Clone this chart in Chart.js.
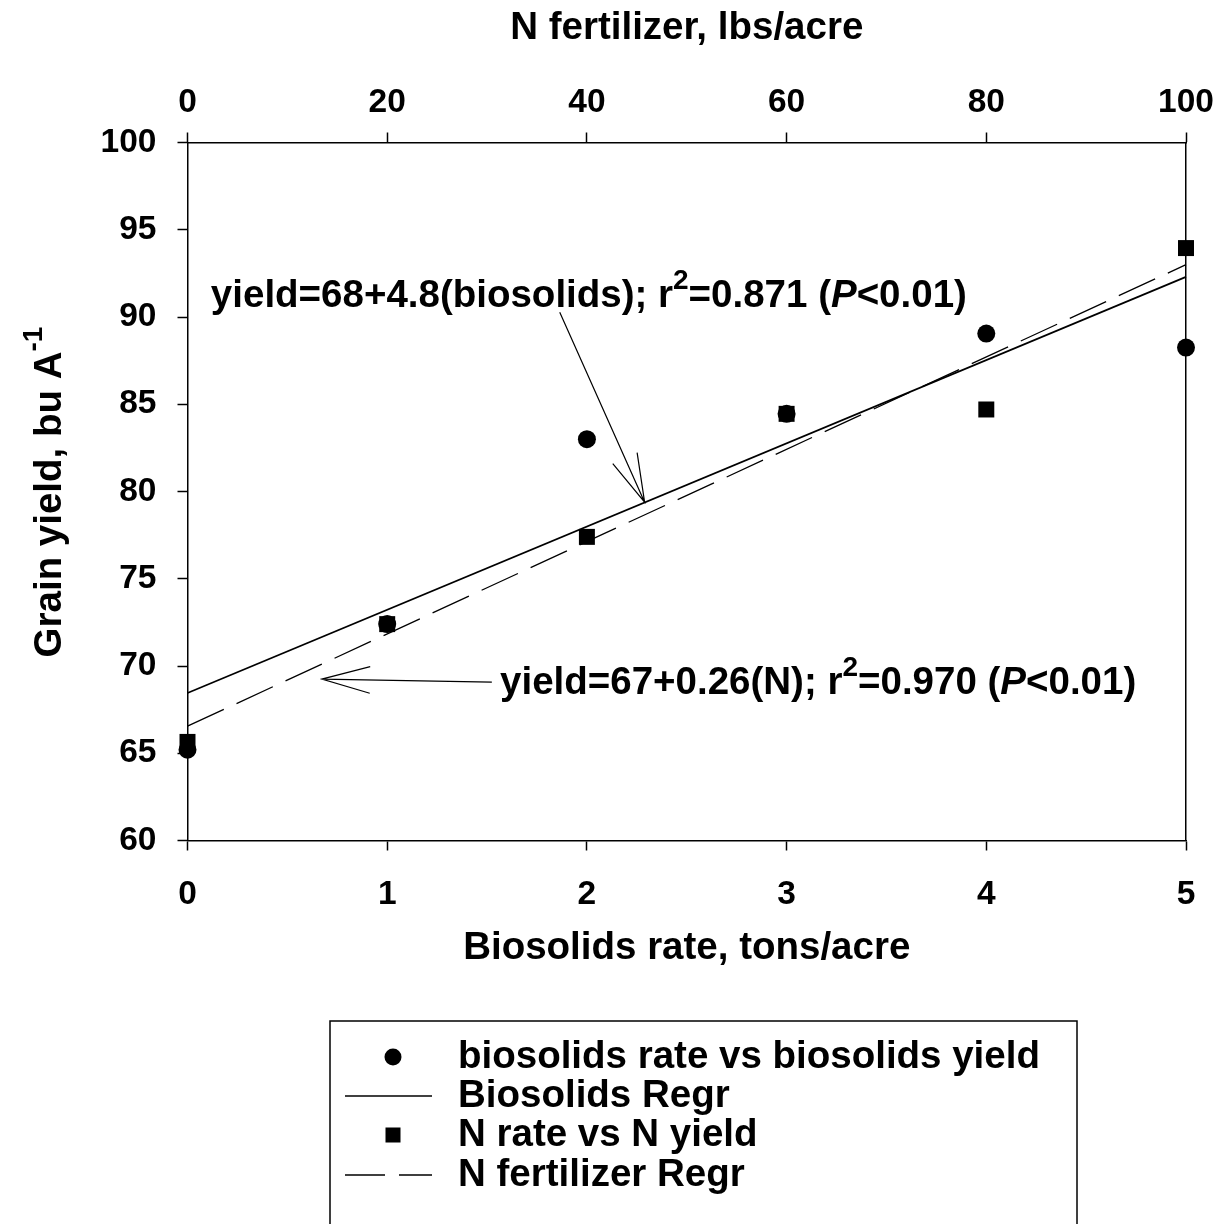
<!DOCTYPE html>
<html>
<head>
<meta charset="utf-8">
<script src="https://cdn.jsdelivr.net/npm/chart.js@4.4.1/dist/chart.umd.min.js"></script>
<style>
  html, body { margin: 0; padding: 0; background: #fff; }
  #wrap { width: 1226px; height: 1224px; }
</style>
</head>
<body>
<div id="wrap"><canvas id="yield"></canvas></div>
<script>
// values
const bioRate = [0, 1, 2, 3, 4, 5];
const bioYield = [65.2, 72.4, 83.0, 84.45, 89.05, 88.25];
const nRate = [0, 20, 40, 60, 80, 100];
const nYield = [65.65, 72.4, 77.4, 84.45, 84.7, 93.95];
const bioFitX = [0, 5];
const bioFitY = [68.45, 92.3];
const nFitX = [0, 100];
const nFitY = [66.55, 93.0];
const bioTicks = [0, 1, 2, 3, 4, 5];
const nTicks = [0, 20, 40, 60, 80, 100];
const yieldTicks = [60, 65, 70, 75, 80, 85, 90, 95, 100];

const FONT = '"Liberation Sans", Arial, sans-serif';
const TICK_FONT = {family: FONT, size: 33.5, weight: 'bold'};
const ctx = document.getElementById('yield').getContext('2d');

function pairs(xs, ys) {
    return xs.map((v, i) => ({x: v, y: ys[i]}));
}

function axisGrid(ticks) {
    return {
        drawOnChartArea: false,
        drawTicks: ticks,
        tickLength: 10,
        tickWidth: 1.5,
        tickColor: '#000'
    };
}

// draws text pieces one after another, some raised or italic
function drawRuns(c, runs, x, y) {
    let cx = x;
    runs.forEach(r => {
        c.font = r.font;
        c.fillText(r.t, cx, y + (r.dy || 0));
        cx += c.measureText(r.t).width;
    });
    return cx;
}

function runsWidth(c, runs) {
    let w = 0;
    runs.forEach(r => {
        c.font = r.font;
        w += c.measureText(r.t).width;
    });
    return w;
}

function arrow(c, x0, y0, x1, y1) {
    const ang = Math.atan2(y0 - y1, x0 - x1);
    const len = 50, spread = 0.27;
    c.beginPath();
    c.moveTo(x0, y0);
    c.lineTo(x1, y1);
    c.moveTo(x1 + len * Math.cos(ang - spread), y1 + len * Math.sin(ang - spread));
    c.lineTo(x1, y1);
    c.lineTo(x1 + len * Math.cos(ang + spread), y1 + len * Math.sin(ang + spread));
    c.stroke();
}

const BIG = 'bold 38.5px ' + FONT;
const SUP = 'bold 28px ' + FONT;
const BIGI = 'italic bold 38.5px ' + FONT;

const decor = {
    id: 'decor',
    afterDraw(chart) {
        const c = chart.ctx;
        const sx = chart.scales.x, sx2 = chart.scales.x2, sy = chart.scales.y;
        const area = chart.chartArea;
        c.save();
        c.fillStyle = '#000';
        c.strokeStyle = '#000';
        c.textBaseline = 'middle';

        // axis titles
        c.textAlign = 'center';
        c.font = BIG;
        c.fillText('N fertilizer, lbs/acre', (area.left + area.right) / 2, 28);
        c.fillText('Biosolids rate, tons/acre', (area.left + area.right) / 2, 948);

        c.textAlign = 'left';
        const yTitle = [
            {t: 'Grain yield, bu A', font: BIG},
            {t: '-1', font: SUP, dy: -16}
        ];
        c.save();
        c.translate(50, 492);
        c.rotate(-Math.PI / 2);
        drawRuns(c, yTitle, -runsWidth(c, yTitle) / 2, 0);
        c.restore();

        // regression equations
        const eq1 = [
            {t: 'yield=68+4.8(biosolids); r', font: BIG},
            {t: '2', font: SUP, dy: -15},
            {t: '=0.871 (', font: BIG},
            {t: 'P', font: BIGI},
            {t: '<0.01)', font: BIG}
        ];
        const eq2 = [
            {t: 'yield=67+0.26(N); r', font: BIG},
            {t: '2', font: SUP, dy: -15},
            {t: '=0.970 (', font: BIG},
            {t: 'P', font: BIGI},
            {t: '<0.01)', font: BIG}
        ];
        drawRuns(c, eq1, sx.getPixelForValue(0.117), sy.getPixelForValue(91.2));
        drawRuns(c, eq2, sx.getPixelForValue(1.565), sy.getPixelForValue(69.0));

        c.lineWidth = 1.2;
        arrow(c, sx.getPixelForValue(1.864), sy.getPixelForValue(90.27),
              sx.getPixelForValue(2.289), sy.getPixelForValue(79.39));
        arrow(c, sx.getPixelForValue(1.524), sy.getPixelForValue(69.08),
              sx2.getPixelForValue(13.45), sy.getPixelForValue(69.25));

        // legend box
        c.lineWidth = 1.5;
        c.strokeRect(330, 1021, 747, 260);
        const rows = [1057, 1096, 1135, 1175];
        chart.data.datasets.forEach((ds, i) => {
            const ry = rows[i];
            if (ds.showLine) {
                c.lineWidth = 1.5;
                c.setLineDash(ds.borderDash || []);
                c.beginPath();
                c.moveTo(345, ry);
                c.lineTo(432, ry);
                c.stroke();
                c.setLineDash([]);
            } else if (ds.pointStyle === 'rect') {
                c.fillRect(393 - 7.5, ry - 7.5, 15, 15);
            } else {
                c.beginPath();
                c.arc(393, ry, 8.5, 0, Math.PI * 2);
                c.fill();
            }
            c.font = BIG;
            c.fillText(ds.label, 458, ry);
        });
        c.restore();
    }
};

const yieldChart = new Chart(ctx, {
    type: 'scatter',
    data: {
        datasets: [
            {
                label: 'biosolids rate vs biosolids yield',
                data: pairs(bioRate, bioYield),
                xAxisID: 'x',
                pointStyle: 'circle',
                pointRadius: 9,
                pointHoverRadius: 9,
                backgroundColor: '#000',
                borderColor: '#000',
                borderWidth: 0,
                showLine: false,
                clip: false
            },
            {
                label: 'Biosolids Regr',
                data: pairs(bioFitX, bioFitY),
                xAxisID: 'x',
                showLine: true,
                pointRadius: 0,
                borderColor: '#000',
                borderWidth: 1.7,
                clip: false
            },
            {
                label: 'N rate vs N yield',
                data: pairs(nRate, nYield),
                xAxisID: 'x2',
                pointStyle: 'rect',
                pointRadius: 11.3,
                pointHoverRadius: 11.3,
                backgroundColor: '#000',
                borderColor: '#000',
                borderWidth: 0,
                showLine: false,
                clip: false
            },
            {
                label: 'N fertilizer Regr',
                data: pairs(nFitX, nFitY),
                xAxisID: 'x2',
                showLine: true,
                pointRadius: 0,
                borderColor: '#000',
                borderWidth: 1.3,
                borderDash: [40, 14],
                clip: false
            }
        ]
    },
    options: {
        responsive: true,
        maintainAspectRatio: false,
        animation: false,
        layout: {padding: 0},
        plugins: {
            legend: {display: false},
            tooltip: {enabled: false}
        },
        scales: {
            x: {
                type: 'linear',
                position: 'bottom',
                min: 0,
                max: 5,
                afterBuildTicks: s => { s.ticks = bioTicks.map(v => ({value: v})); },
                ticks: {
                    color: '#000',
                    font: TICK_FONT,
                    padding: 24,
                    maxRotation: 0,
                    autoSkip: false
                },
                grid: axisGrid(true),
                border: {display: true, color: '#000', width: 1.5},
                afterFit: s => { s.height = 383.5; }
            },
            x2: {
                type: 'linear',
                position: 'top',
                min: 0,
                max: 100,
                afterBuildTicks: s => { s.ticks = nTicks.map(v => ({value: v})); },
                ticks: {
                    color: '#000',
                    font: TICK_FONT,
                    padding: 10,
                    maxRotation: 0,
                    autoSkip: false
                },
                grid: axisGrid(true),
                border: {display: true, color: '#000', width: 1.5},
                afterFit: s => { s.height = 142.5; }
            },
            y: {
                type: 'linear',
                position: 'left',
                min: 60,
                max: 100,
                afterBuildTicks: s => { s.ticks = yieldTicks.map(v => ({value: v})); },
                ticks: {
                    color: '#000',
                    font: TICK_FONT,
                    padding: 21,
                    autoSkip: false
                },
                grid: axisGrid(true),
                border: {display: true, color: '#000', width: 1.5},
                afterFit: s => { s.width = 187.5; }
            },
            y2: {
                type: 'linear',
                position: 'right',
                min: 60,
                max: 100,
                ticks: {display: false},
                grid: axisGrid(false),
                border: {display: true, color: '#000', width: 1.5},
                afterFit: s => { s.width = 40; }
            }
        }
    },
    plugins: [decor]
});
</script>
</body>
</html>
